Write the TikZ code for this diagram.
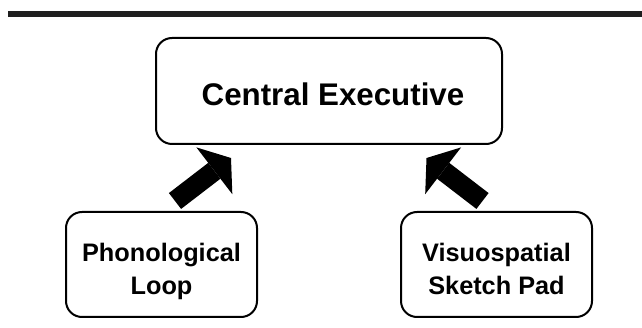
\documentclass[tikz,border=0pt]{standalone}
\usepackage{fontspec}
\setmainfont{Liberation Sans}
\usetikzlibrary{arrows.meta}

\tikzset{
  box/.style={draw,line width=2pt,rounded corners=16pt,inner sep=0pt},
  boxtext/.style={font=\fontsize{25.3}{32.6}\selectfont\bfseries,align=center,inner sep=0pt,text depth=0pt},
  bigarrow/.style={line width=20pt,-{Triangle[width=59pt,length=21pt,line width=0pt]}}
}

\begin{document}
\begin{tikzpicture}[x=1pt,y=-1pt]
\useasboundingbox (0,0) rectangle (642,328);
\fill[black!88] (8,11) rectangle (642,17);
\node[box,minimum width=346pt,minimum height=106pt] (CE) at (329,91) {};
\node[box,minimum width=191pt,minimum height=105pt] (PL) at (161.5,264.5) {};
\node[box,minimum width=191pt,minimum height=105pt] (VS) at (496.5,264.5) {};
\node[boxtext,font=\fontsize{31.3}{36}\selectfont\bfseries] (CEtext) at (333,94) {Central Executive};
\node[boxtext] (PLtext) at (161.5,268.7) {Phonological\\Loop};
\node[boxtext] (VStext) at (496.5,268.7) {Visuospatial\\Sketch Pad};
\coordinate (PLtail) at (175,201);
\coordinate (CEtipL) at (231,158);
\coordinate (VStail) at (482.5,201);
\coordinate (CEtipR) at (426.5,158);
\draw[bigarrow] (PLtail) -- (CEtipL);
\draw[bigarrow] (VStail) -- (CEtipR);
\end{tikzpicture}
\end{document}
